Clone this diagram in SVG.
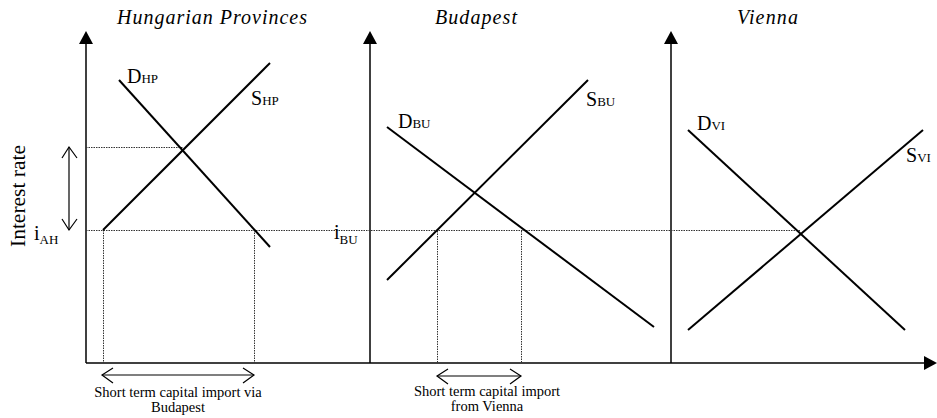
<svg xmlns="http://www.w3.org/2000/svg" width="937" height="418" viewBox="0 0 937 418">
<style>
.axis{stroke:#000;stroke-width:1.5;fill:none}
.curve{stroke:#000;stroke-width:2;fill:none}
.dot{stroke:#333;stroke-width:1;stroke-dasharray:1.5,1;fill:none}
.dbl{stroke:#000;stroke-width:1.2;fill:none}
.title{font-family:"Liberation Serif",serif;font-style:italic;font-size:20px;fill:#000}
.lbl{font-family:"Liberation Serif",serif;font-size:20px;fill:#000}
.note{font-family:"Liberation Serif",serif;font-size:14.5px;fill:#000;text-anchor:middle}
</style>
<rect width="937" height="418" fill="#fff"/>
<g id="titles">
<text class="title" x="117" y="24" textLength="190" lengthAdjust="spacing">Hungarian Provinces</text>
<text class="title" x="435" y="24" textLength="82" lengthAdjust="spacing">Budapest</text>
<text class="title" x="737" y="24" textLength="61" lengthAdjust="spacing">Vienna</text>
</g>
<g id="axes">
<line class="axis" x1="86" y1="43" x2="86" y2="363"/>
<polygon points="86,31 79,44 93,44" fill="#000"/>
<line class="axis" x1="370" y1="43" x2="370" y2="363"/>
<polygon points="370,31 363,44 377,44" fill="#000"/>
<line class="axis" x1="671" y1="43" x2="671" y2="363"/>
<polygon points="671,31 664,44 678,44" fill="#000"/>
<line class="axis" x1="86" y1="363" x2="925" y2="363"/>
<polygon points="937,363 924,356 924,370" fill="#000"/>
</g>
<g id="guides">
<line class="dot" x1="86" y1="147.5" x2="183" y2="147.5"/>
<line class="dot" x1="86" y1="230.5" x2="800" y2="230.5"/>
<line class="dot" x1="103.5" y1="230" x2="103.5" y2="363"/>
<line class="dot" x1="254.5" y1="230" x2="254.5" y2="363"/>
<line class="dot" x1="437.5" y1="231" x2="437.5" y2="363"/>
<line class="dot" x1="521.5" y1="231" x2="521.5" y2="363"/>
</g>
<g id="hungarian">
<line class="curve" x1="119" y1="80" x2="270" y2="247"/>
<line class="curve" x1="103" y1="230" x2="270" y2="63"/>
<text class="lbl" x="127" y="83">D<tspan font-size="13">HP</tspan></text>
<text class="lbl" x="251" y="105">S<tspan font-size="13">HP</tspan></text>
</g>
<g id="budapest">
<line class="curve" x1="387" y1="127" x2="654" y2="327"/>
<line class="curve" x1="387" y1="280" x2="588" y2="80"/>
<text class="lbl" x="398" y="128">D<tspan font-size="13">BU</tspan></text>
<text class="lbl" x="586" y="106">S<tspan font-size="13">BU</tspan></text>
</g>
<g id="vienna">
<line class="curve" x1="688" y1="130" x2="905" y2="330"/>
<line class="curve" x1="688" y1="330" x2="923" y2="130"/>
<text class="lbl" x="697" y="130">D<tspan font-size="13">VI</tspan></text>
<text class="lbl" x="906" y="162">S<tspan font-size="13">VI</tspan></text>
</g>
<g id="yaxis-labels">
<text class="lbl" transform="translate(25,196) rotate(-90)" text-anchor="middle" style="font-size:21.5px">Interest rate</text>
<text class="lbl" x="34" y="240">i<tspan font-size="13" dy="4">AH</tspan></text>
<text class="lbl" x="334" y="239">i<tspan font-size="13" dy="5">BU</tspan></text>
</g>
<g id="connectors">
<line class="dbl" x1="69" y1="147" x2="69" y2="230"/>
<polyline class="dbl" points="62,158 69,147 77,158"/>
<polyline class="dbl" points="62,219 69,230 77,219"/>
<line class="dbl" x1="102" y1="375" x2="254" y2="375"/>
<polyline class="dbl" points="113,368 102,375 113,383"/>
<polyline class="dbl" points="243,368 254,375 243,383"/>
<line class="dbl" x1="437" y1="376" x2="521" y2="376"/>
<polyline class="dbl" points="448,369 437,376 448,384"/>
<polyline class="dbl" points="510,369 521,376 510,384"/>
</g>
<g id="notes">
<text class="note" x="178" y="397">Short term capital import via</text>
<text class="note" x="178" y="412">Budapest</text>
<text class="note" x="487" y="396">Short term capital import</text>
<text class="note" x="487" y="411">from Vienna</text>
</g>
</svg>
